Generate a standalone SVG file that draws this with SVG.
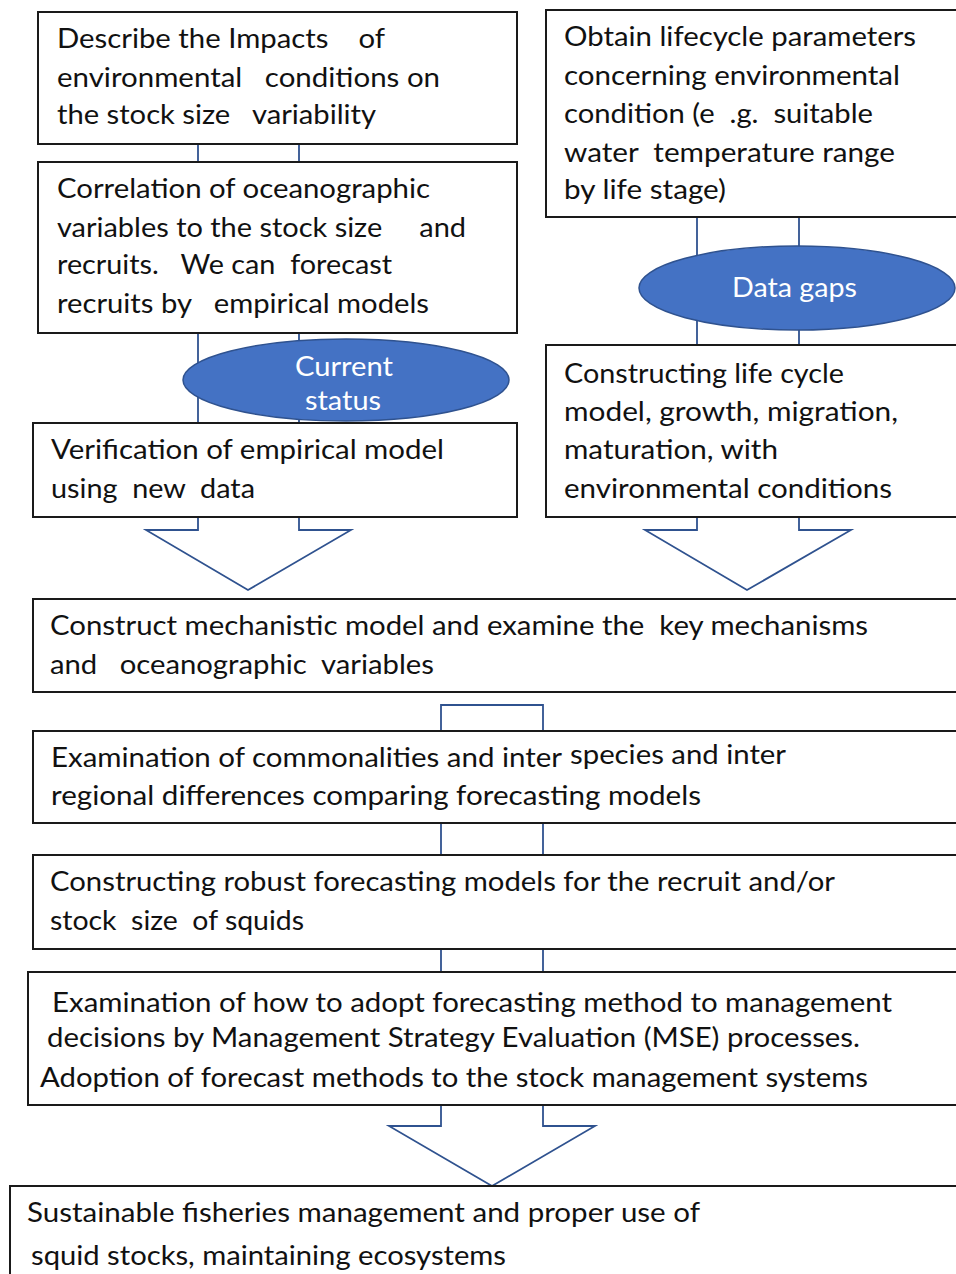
<svg xmlns="http://www.w3.org/2000/svg" width="956" height="1274" viewBox="0 0 956 1274">
<style>
.box{fill:#fff;stroke:#1a1a1a;stroke-width:2}
.t{font-family:Lato,"Open Sans","Liberation Sans",sans-serif;font-size:26px;fill:#111;white-space:pre}
.c{font-family:Lato,"Open Sans","Liberation Sans",sans-serif;font-size:26px;fill:#fff;white-space:pre}
.ln{fill:none;stroke:#2F528F;stroke-width:1.8}
.arr{fill:#fff;stroke:#2F528F;stroke-width:1.8;stroke-linejoin:miter}
.ell{fill:#4472C4;stroke:#2F528F;stroke-width:1.5}
</style>
<rect width="956" height="1274" fill="#fff"/>
<g id="connectors">
<line class="ln" x1="198" y1="144" x2="198" y2="162"/>
<line class="ln" x1="299" y1="144" x2="299" y2="162"/>
<line class="ln" x1="198" y1="333" x2="198" y2="423"/>
<line class="ln" x1="299" y1="333" x2="299" y2="423"/>
<polyline class="arr" points="198,517 198,530 146,530 248,590 351,530 299,530 299,517"/>
<line class="ln" x1="697" y1="217" x2="697" y2="345"/>
<line class="ln" x1="799" y1="217" x2="799" y2="345"/>
<polyline class="arr" points="697,517 697,530 645,530 747,590 851,530 799,530 799,517"/>
<polyline class="ln" points="441,731 441,705 543,705 543,731"/>
<line class="ln" x1="441" y1="823" x2="441" y2="855"/>
<line class="ln" x1="543" y1="823" x2="543" y2="855"/>
<line class="ln" x1="441" y1="949" x2="441" y2="972"/>
<line class="ln" x1="543" y1="949" x2="543" y2="972"/>
<polyline class="arr" points="441,1105 441,1126 389,1126 492,1186 595,1126 543,1126 543,1105"/>
</g>
<g id="n1">
<rect class="box" x="38" y="12" width="479" height="132"/>
<text class="t" x="57" y="48" textLength="328" lengthAdjust="spacingAndGlyphs">Describe the Impacts    of</text>
<text class="t" x="57" y="87" textLength="383" lengthAdjust="spacingAndGlyphs">environmental   conditions on</text>
<text class="t" x="57" y="124" textLength="319" lengthAdjust="spacingAndGlyphs">the stock size   variability</text>
</g>
<g id="n2">
<rect class="box" x="38" y="162" width="479" height="171"/>
<text class="t" x="57" y="198" textLength="373" lengthAdjust="spacingAndGlyphs">Correlation of oceanographic</text>
<text class="t" x="57" y="237" textLength="409" lengthAdjust="spacingAndGlyphs">variables to the stock size     and</text>
<text class="t" x="57" y="274" textLength="335" lengthAdjust="spacingAndGlyphs">recruits.   We can  forecast</text>
<text class="t" x="57" y="313" textLength="372" lengthAdjust="spacingAndGlyphs">recruits by   empirical models</text>
</g>
<g id="current-status">
<ellipse class="ell" cx="346" cy="380" rx="163" ry="41"/>
<text class="c" x="344" y="376" text-anchor="middle" textLength="98" lengthAdjust="spacingAndGlyphs">Current</text>
<text class="c" x="343" y="410" text-anchor="middle" textLength="76" lengthAdjust="spacingAndGlyphs">status</text>
</g>
<g id="n3">
<rect class="box" x="33" y="423" width="484" height="94"/>
<text class="t" x="51" y="459" textLength="393" lengthAdjust="spacingAndGlyphs">Verification of empirical model</text>
<text class="t" x="51" y="498" textLength="204" lengthAdjust="spacingAndGlyphs">using  new  data</text>
</g>
<g id="r1">
<rect class="box" x="546" y="10" width="420" height="207"/>
<text class="t" x="564" y="46" textLength="352" lengthAdjust="spacingAndGlyphs">Obtain lifecycle parameters</text>
<text class="t" x="564" y="85" textLength="336" lengthAdjust="spacingAndGlyphs">concerning environmental</text>
<text class="t" x="564" y="123" textLength="309" lengthAdjust="spacingAndGlyphs">condition (e  .g.  suitable</text>
<text class="t" x="564" y="162" textLength="331" lengthAdjust="spacingAndGlyphs">water  temperature range</text>
<text class="t" x="564" y="199" textLength="162" lengthAdjust="spacingAndGlyphs">by life stage)</text>
</g>
<g id="data-gaps">
<ellipse class="ell" cx="797" cy="288" rx="158" ry="42"/>
<text class="c" x="732" y="297" textLength="125" lengthAdjust="spacingAndGlyphs">Data gaps</text>
</g>
<g id="r2">
<rect class="box" x="546" y="345" width="420" height="172"/>
<text class="t" x="564" y="383" textLength="280" lengthAdjust="spacingAndGlyphs">Constructing life cycle</text>
<text class="t" x="564" y="421" textLength="334" lengthAdjust="spacingAndGlyphs">model, growth, migration,</text>
<text class="t" x="564" y="459" textLength="214" lengthAdjust="spacingAndGlyphs">maturation, with</text>
<text class="t" x="564" y="498" textLength="328" lengthAdjust="spacingAndGlyphs">environmental conditions</text>
</g>
<g id="n4">
<rect class="box" x="33" y="599" width="933" height="93"/>
<text class="t" x="50" y="635" textLength="818" lengthAdjust="spacingAndGlyphs">Construct mechanistic model and examine the  key mechanisms</text>
<text class="t" x="50" y="674" textLength="384" lengthAdjust="spacingAndGlyphs">and   oceanographic  variables</text>
</g>
<g id="n5">
<rect class="box" x="33" y="731" width="933" height="92"/>
<text class="t" x="51" y="767" textLength="511" lengthAdjust="spacingAndGlyphs">Examination of commonalities and inter</text>
<text class="t" x="570" y="764" textLength="216" lengthAdjust="spacingAndGlyphs">species and inter</text>
<text class="t" x="51" y="805" textLength="650" lengthAdjust="spacingAndGlyphs">regional differences comparing forecasting models</text>
</g>
<g id="n6">
<rect class="box" x="33" y="855" width="933" height="94"/>
<text class="t" x="50" y="891" textLength="785" lengthAdjust="spacingAndGlyphs">Constructing robust forecasting models for the recruit and/or</text>
<text class="t" x="50" y="930" textLength="254" lengthAdjust="spacingAndGlyphs">stock  size  of squids</text>
</g>
<g id="n7">
<rect class="box" x="28" y="972" width="938" height="133"/>
<text class="t" x="52" y="1012" textLength="840" lengthAdjust="spacingAndGlyphs">Examination of how to adopt forecasting method to management</text>
<text class="t" x="47" y="1047" textLength="813" lengthAdjust="spacingAndGlyphs">decisions by Management Strategy Evaluation (MSE) processes.</text>
<text class="t" x="40" y="1087" textLength="828" lengthAdjust="spacingAndGlyphs">Adoption of forecast methods to the stock management systems</text>
</g>
<g id="n8">
<rect class="box" x="10" y="1186" width="956" height="100"/>
<text class="t" x="27" y="1222" textLength="673" lengthAdjust="spacingAndGlyphs">Sustainable fisheries management and proper use of</text>
<text class="t" x="31" y="1265" textLength="475" lengthAdjust="spacingAndGlyphs">squid stocks, maintaining ecosystems</text>
</g>
</svg>
